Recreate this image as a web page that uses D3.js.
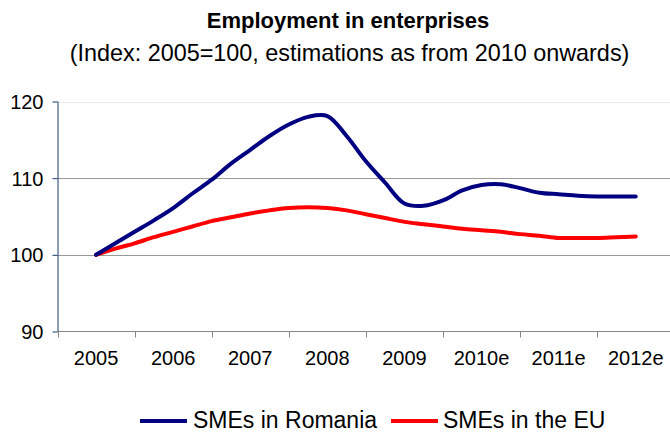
<!DOCTYPE html>
<html>
<head>
<meta charset="utf-8">
<script src="https://cdn.jsdelivr.net/npm/d3@7"></script>
<style>
  html, body { margin: 0; padding: 0; background: #fff; }
  svg { display: block; font-family: "Liberation Sans", Arial, sans-serif; }
</style>
</head>
<body>
<svg id="chart" width="670" height="432"></svg>
<script>
// ---- Data ----
const categories = ["2005", "2006", "2007", "2008", "2009", "2010e", "2011e", "2012e"];
// quarterly positions (in category index units, 0 = 2005)
const positions = [0, 0.25, 0.5, 0.75, 1, 1.25, 1.5, 1.75, 2, 2.25, 2.5, 2.75, 3, 3.25, 3.5, 3.75,
                   4, 4.25, 4.5, 4.75, 5, 5.25, 5.5, 5.75, 6, 6.25, 6.5, 6.75, 7];
const smesRomania = [100, 101.5, 103.0, 104.5, 106.1, 108.0, 109.8, 111.9, 113.7, 115.5, 117.0, 118.0, 118.1, 115.5, 112.2, 109.4,
                     106.7, 106.4, 107.1, 108.4, 109.1, 109.2, 108.7, 108.1, 107.9, 107.7, 107.6, 107.6, 107.6];
const smesEU = [100, 100.8, 101.5, 102.3, 103.0, 103.7, 104.4, 104.9, 105.4, 105.8, 106.1, 106.2, 106.1, 105.8, 105.3, 104.8,
                104.3, 104.0, 103.7, 103.4, 103.2, 103.0, 102.7, 102.5, 102.2, 102.2, 102.2, 102.3, 102.4];
const yTicks = [90, 100, 110, 120];
const seriesNames = ["SMEs in Romania", "SMEs in the EU"];
const seriesColors = ["#000080", "#ff0000"];

// ---- Layout ----
const svg = d3.select("#chart");
const plotLeft = 57.5, plotTop = 101.5, plotBottom = 331.5;
const step = 77.1;
const plotRight = plotLeft + step * categories.length;

const xBand = d3.scaleBand().domain(categories).range([plotLeft, plotRight]).padding(0);
const x = d3.scaleLinear().domain([-0.5, categories.length - 0.5]).range([plotLeft, plotRight]);
const y = d3.scaleLinear().domain([90, 120]).range([plotBottom, plotTop]);

function label(parent, tx, ty, txt, size, anchor, weight) {
  return parent.append("text")
    .attr("x", tx).attr("y", ty)
    .attr("text-anchor", anchor || "start")
    .attr("font-size", size)
    .attr("font-weight", weight || "normal")
    .attr("fill", "#000")
    .text(txt);
}

// Title
label(svg, 348, 28, "Employment in enterprises", 22, "middle", "bold");
label(svg, 349.5, 61, "(Index: 2005=100, estimations as from 2010 onwards)", 23.4, "middle");

// Gridlines
svg.append("g").selectAll("line").data(yTicks.filter(d => d > 90)).join("line")
  .attr("x1", plotLeft).attr("x2", 670)
  .attr("y1", d => Math.round(y(d)) + 0.5).attr("y2", d => Math.round(y(d)) + 0.5)
  .attr("stroke", d => d === 120 ? "#ececec" : "#999").attr("stroke-width", 1);

// X axis (category, ticks at boundaries)
const xAxis = svg.append("g").attr("transform", `translate(0,${plotBottom})`);
xAxis.append("line").attr("x1", plotLeft).attr("x2", 670).attr("y1", 0).attr("y2", 0)
  .attr("stroke", "#888");
xAxis.selectAll("line.tick").data(categories).join("line").attr("class", "tick")
  .attr("x1", d => Math.round(xBand(d)) + 0.5).attr("x2", d => Math.round(xBand(d)) + 0.5)
  .attr("y1", 0).attr("y2", 6).attr("stroke", "#888");
categories.forEach(c => {
  label(xAxis, xBand(c) + xBand.bandwidth() / 2, 33.5, c, 20, "middle");
});

// Y axis
const yAxis = svg.append("g").attr("transform", `translate(${plotLeft},0)`)
  .call(d3.axisLeft(y).tickValues(yTicks).tickSize(5).tickPadding(9).tickFormat(d3.format("d")));
yAxis.select(".domain").attr("stroke", "#1f3c6e").attr("d", `M0.5,${plotTop}V${plotBottom}`);
yAxis.selectAll(".tick line").attr("stroke", "#1f3c6e");
yAxis.selectAll(".tick text")
  .attr("dy", "0.35em")
  .attr("font-size", 20).attr("font-family", "Liberation Sans, Arial, sans-serif").attr("fill", "#000");

// Lines
const line = d3.line().x(d => x(d[0])).y(d => y(d[1])).curve(d3.curveCatmullRom.alpha(0.5));
const seriesData = [smesRomania, smesEU];
// draw EU first, Romania on top
[1, 0].forEach(i => {
  svg.append("path")
    .datum(positions.map((p, j) => [p, seriesData[i][j]]))
    .attr("d", line).attr("fill", "none")
    .attr("stroke", seriesColors[i]).attr("stroke-width", 4)
    .attr("stroke-linejoin", "round").attr("stroke-linecap", "round");
});

// Legend
const legendItems = [
  { name: seriesNames[0], color: seriesColors[0], lx: 140, tx: 193 },
  { name: seriesNames[1], color: seriesColors[1], lx: 391, tx: 443 }
];
const lg = svg.append("g");
legendItems.forEach(it => {
  lg.append("line").attr("x1", it.lx).attr("x2", it.lx + 47).attr("y1", 421).attr("y2", 421)
    .attr("stroke", it.color).attr("stroke-width", 4);
  label(lg, it.tx, 428, it.name, 23, "start");
});
</script>
</body>
</html>
